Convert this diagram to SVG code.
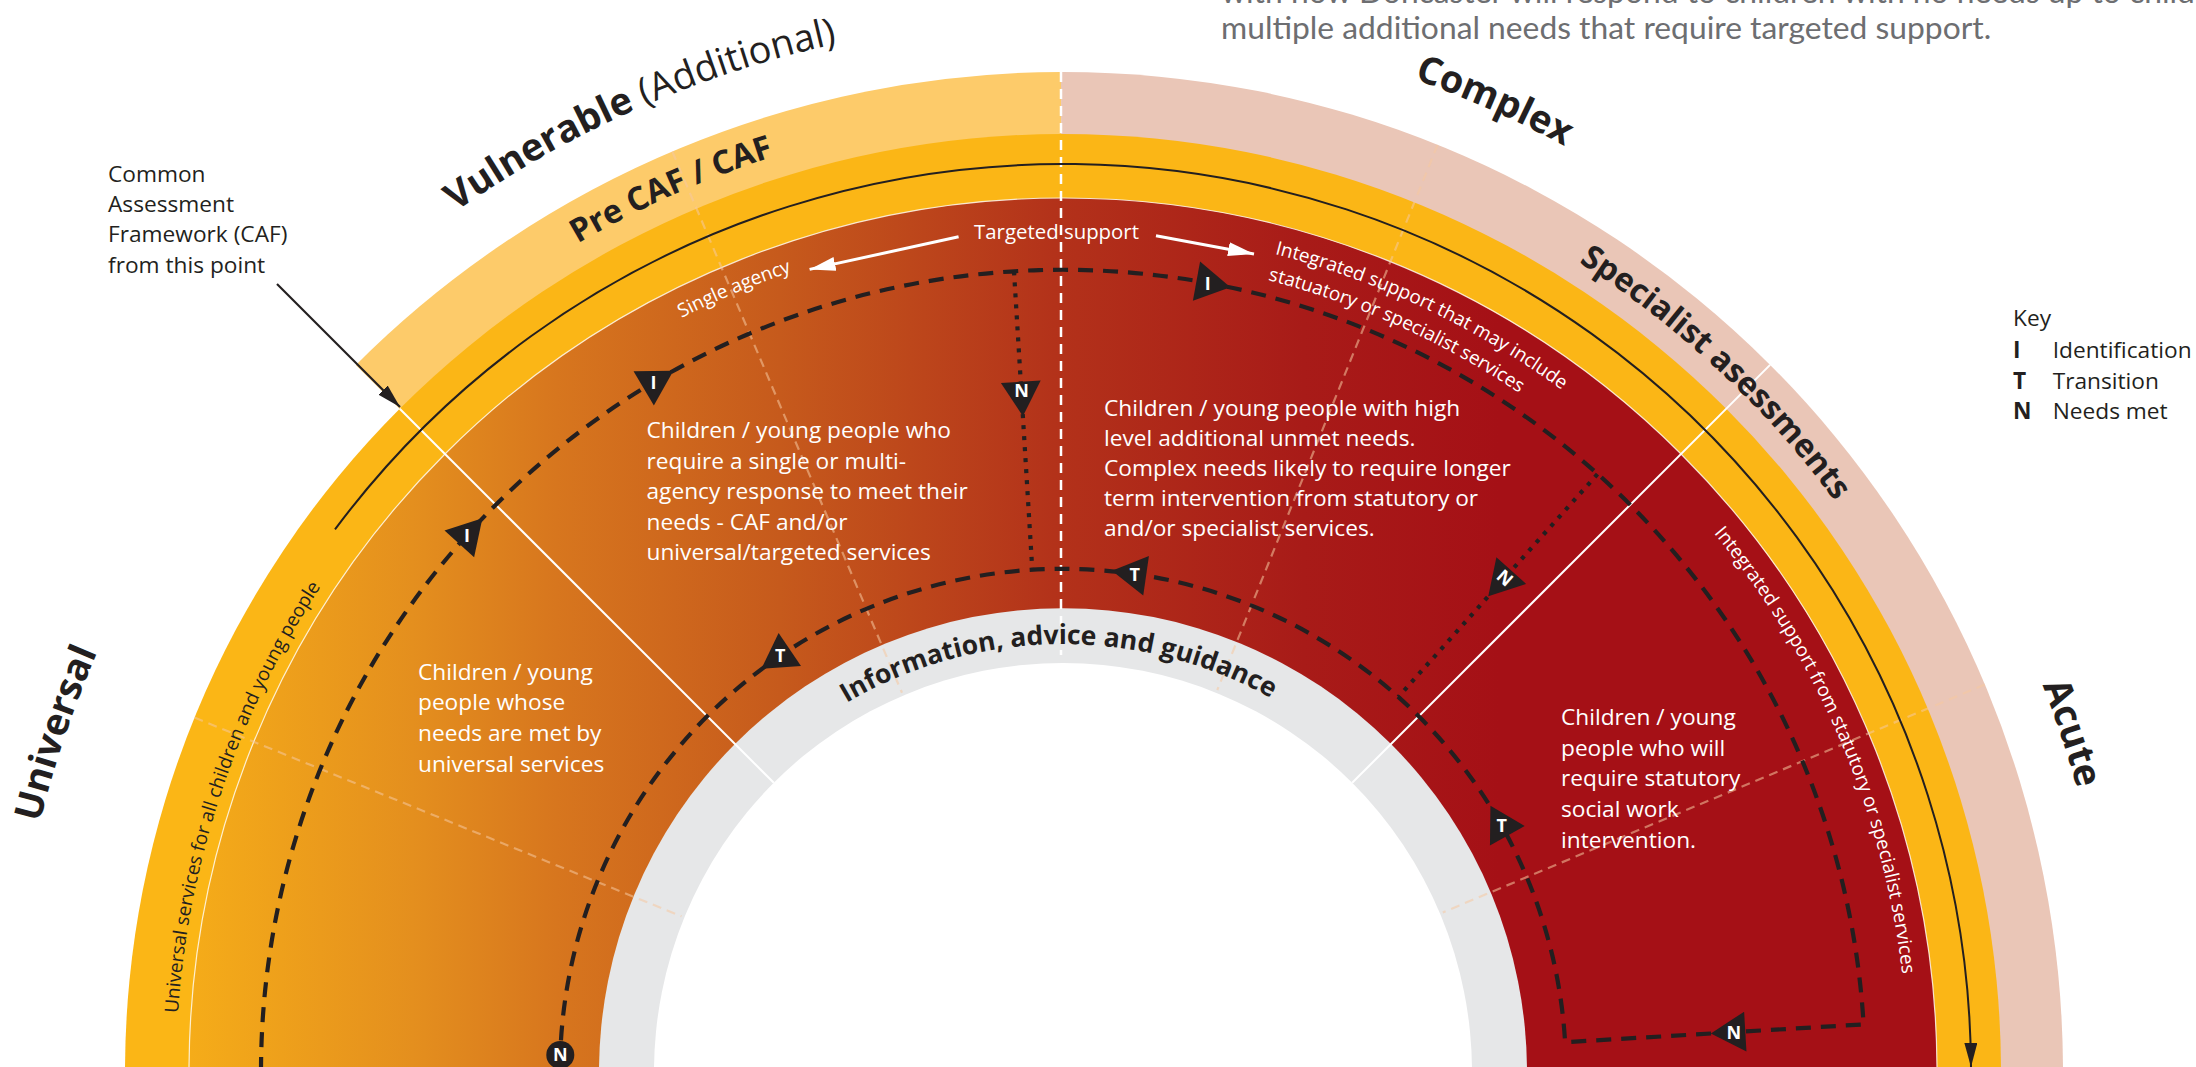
<svg xmlns="http://www.w3.org/2000/svg" width="2196" height="1067" viewBox="0 0 2196 1067">
<defs>
<style>
text{font-family:'Open Sans','Liberation Sans',sans-serif}
.dark{fill:#231F20}
.white{fill:#fff}
.body{font-size:22.7px;fill:#fff}
.lab{font-size:22.7px;fill:#231F20}
.big{font-size:38px;font-weight:700;fill:#231F20}
.mid{font-size:32.5px;font-weight:700;fill:#231F20}
.small{font-size:19px}
.mk{font-size:18px;font-weight:700;fill:#fff;text-anchor:middle}
.flow{fill:none;stroke:#231F20;stroke-width:4.2;stroke-dasharray:15 10}
.dots{fill:none;stroke:#231F20;stroke-width:4.2;stroke-dasharray:4 7}
.pale{stroke:#F6C9A0;stroke-opacity:0.55;stroke-width:2.2;stroke-dasharray:9 6}
.desc{font-family:Lato,'Liberation Sans',sans-serif;font-size:31.8px;fill:#6D6E71}
</style>
<linearGradient id="grad" gradientUnits="userSpaceOnUse" x1="190" y1="0" x2="1500" y2="0">
<stop offset="0" stop-color="#F5AC19"/>
<stop offset="0.17" stop-color="#E48F1E"/>
<stop offset="0.28" stop-color="#D7761E"/>
<stop offset="0.45" stop-color="#C65A1C"/>
<stop offset="0.66" stop-color="#B3321A"/>
<stop offset="0.85" stop-color="#A81B18"/>
<stop offset="1" stop-color="#A51016"/>
</linearGradient>
<marker id="ahB" markerUnits="userSpaceOnUse" viewBox="0 0 24 13" refX="24" refY="6.5" markerWidth="24" markerHeight="13" orient="auto"><path d="M0,0 L24,6.5 L0,13 Z" fill="#231F20"/></marker>
<marker id="ahW" markerUnits="userSpaceOnUse" viewBox="0 0 26 14" refX="26" refY="7" markerWidth="26" markerHeight="14" orient="auto"><path d="M0,0 L26,7 L0,14 Z" fill="#fff"/></marker>
<path id="pBig" d="M10,1072 A1053 1053 0 0 1 2116,1072"/>
<path id="pSub" d="M103,1072 A960 960 0 0 1 2023,1072"/>
<path id="pInfo" d="M635,1072 A428 428 0 0 1 1491,1072"/>
<path id="p845" d="M218,1072 A845 845 0 0 1 1908,1072"/>
<path id="p818" d="M245,1072 A818 818 0 0 1 1881,1072"/>
<path id="p887" d="M176,1072 A887 887 0 0 1 1950,1072"/>
<polygon id="tri" points="23,0 -11.5,19.92 -11.5,-19.92" fill="#231F20"/>
</defs>
<rect width="2196" height="1067" fill="#fff"/>

<g id="description">
<text class="desc" x="1221" y="3">with how Doncaster will respond to children with no needs up to children with</text>
<text class="desc" x="1221" y="38.6">multiple additional needs that require targeted support.</text>
</g>

<g id="rings">
<path d="M1063,1072 L355.9,364.9 A1000 1000 0 0 1 1061,72 Z" fill="#FDCB6A"/>
<path d="M1063,1072 L1061,72 A1000 1000 0 0 1 2063,1072 Z" fill="#EAC6B7"/>
<path d="M125,1072 A938 938 0 0 1 2001,1072 Z" fill="#FBB616"/>
<path d="M189,1072 A874 874 0 0 1 1937,1072 Z" fill="url(#grad)"/>
<path d="M189,1072 A874 874 0 0 1 1937,1072" fill="none" stroke="#fff" stroke-opacity="0.8" stroke-width="1.2"/>
<path d="M599,1072 A464 464 0 0 1 1527,1072 Z" fill="#E6E7E8"/>
<path d="M654,1072 A409 409 0 0 1 1472,1072 Z" fill="#fff"/>
</g>

<g id="dividers">
<line class="pale" x1="194.5" y1="717.6" x2="681.5" y2="916.3"/>
<line class="pale" x1="672.3" y1="151.5" x2="902" y2="692.8"/>
<line class="pale" x1="1437.6" y1="144.8" x2="1217.3" y2="690"/>
<line class="pale" x1="1984.9" y1="684.5" x2="1442.8" y2="912.4"/>
<line x1="399.7" y1="408.7" x2="773.8" y2="782.8" stroke="#fff" stroke-width="2"/>
<line x1="1770.1" y1="364.9" x2="1352.2" y2="782.8" stroke="#fff" stroke-width="2"/>
<line x1="1061" y1="72" x2="1061" y2="655" stroke="#fff" stroke-width="2.5" stroke-dasharray="10 7"/>
</g>

<g id="connectors">
<path d="M335,529.4 A908 908 0 0 1 1971,1066.9" fill="none" stroke="#231F20" stroke-width="2" marker-end="url(#ahB)"/>
<line x1="277" y1="284" x2="400" y2="407" stroke="#231F20" stroke-width="2.2" marker-end="url(#ahB)"/>
<line x1="958.6" y1="236.8" x2="809.6" y2="269.4" stroke="#fff" stroke-width="3" marker-end="url(#ahW)"/>
<line x1="1156" y1="235.7" x2="1254" y2="254" stroke="#fff" stroke-width="3" marker-end="url(#ahW)"/>
<path class="flow" d="M261,1072 A802 802 0 0 1 1863.6,1024.4 L1565.1,1042.2 A503 503 0 0 0 560.9,1041.3"/>
<line class="dots" x1="1014" y1="271.5" x2="1032.3" y2="569.9"/>
<line class="dots" x1="1597.5" y1="474.1" x2="1398.3" y2="697"/>
</g>

<g id="markers">
<g id="mk-i1" transform="translate(467,535.4)"><use href="#tri" transform="rotate(-48)"/><text class="mk" dy="6.4">I</text></g>
<g id="mk-i2" transform="translate(653.6,382.4)"><use href="#tri" transform="rotate(-30.7)"/><text class="mk" dy="6.4">I</text></g>
<g id="mk-n1" transform="translate(1021.5,393.3)"><use href="#tri" transform="rotate(86.5)"/><text class="mk" dy="3.5">N</text></g>
<g id="mk-i3" transform="translate(1207.8,283.2)"><use href="#tri" transform="rotate(10.4)"/><text class="mk" dy="6.4">I</text></g>
<g id="mk-n2" transform="translate(1503.6,579.2)"><use href="#tri" transform="rotate(131.8)"/><text class="mk" dy="4.5" transform="rotate(41.8)">N</text></g>
<g id="mk-n3" transform="translate(1733.8,1032.2)"><use href="#tri" transform="rotate(176.6)"/><text class="mk" dy="6.4">N</text></g>
<g id="mk-t1" transform="translate(1501.7,825.8)"><use href="#tri" transform="rotate(240.7)"/><text class="mk" dy="6.4">T</text></g>
<g id="mk-t2" transform="translate(1134.7,574.1)"><use href="#tri" transform="rotate(188.2)"/><text class="mk" dy="6.4">T</text></g>
<g id="mk-t3" transform="translate(780.3,656)"><use href="#tri" transform="rotate(145.8)"/><text class="mk" dy="6.4">T</text></g>
<g id="mk-n4" transform="translate(560.3,1054.9)"><circle r="14" fill="#231F20"/><text class="mk" dy="6.4">N</text></g>
</g>

<g id="caf-note">
<text class="lab" x="108" y="181.7">Common</text>
<text class="lab" x="108" y="212">Assessment</text>
<text class="lab" x="108" y="242">Framework (CAF)</text>
<text class="lab" x="108" y="272.5">from this point</text>
</g>

<g id="universal">
<text class="big" text-anchor="middle"><textPath href="#pBig" startOffset="341.8">Universal</textPath></text>
<text class="small dark"><textPath href="#p887" startOffset="58.8">Universal services for all children and young people</textPath></text>
<text class="body" x="418" y="679.6">Children / young</text>
<text class="body" x="418" y="710.3">people whose</text>
<text class="body" x="418" y="741">needs are met by</text>
<text class="body" x="418" y="771.7">universal services</text>
</g>

<g id="vulnerable">
<text class="big" text-anchor="middle"><textPath href="#pBig" startOffset="1216.6">Vulnerable<tspan font-weight="400"> (Additional)</tspan></textPath></text>
<text class="mid" text-anchor="middle"><textPath href="#pSub" startOffset="1106.7">Pre CAF / CAF</textPath></text>
<text class="small white" text-anchor="middle"><textPath href="#p845" startOffset="991.1">Single agency</textPath></text>
<text class="body" x="646.5" y="438.4">Children / young people who</text>
<text class="body" x="646.5" y="468.9">require a single or multi-</text>
<text class="body" x="646.5" y="499.4">agency response to meet their</text>
<text class="body" x="646.5" y="529.9">needs - CAF and/or</text>
<text class="body" x="646.5" y="560.4">universal/targeted services</text>
</g>

<g id="targeted">
<text class="white" font-size="20.4" x="1056.5" y="238.5" text-anchor="middle">Targeted support</text>
</g>

<g id="complex">
<text class="big" text-anchor="middle"><textPath href="#pBig" startOffset="2094.2">Complex</textPath></text>
<text class="mid" text-anchor="middle"><textPath href="#pSub" startOffset="2228.4">Specialist asessments</textPath></text>
<text class="small white"><textPath href="#p845" startOffset="1541.2">Integrated support that may include</textPath></text>
<text class="small white"><textPath href="#p818" startOffset="1491.9">statuatory or specialist services</textPath></text>
<text class="body" x="1104" y="415.6">Children / young people with high</text>
<text class="body" x="1104" y="445.8">level additional unmet needs.</text>
<text class="body" x="1104" y="476">Complex needs likely to require longer</text>
<text class="body" x="1104" y="506.2">term intervention from statutory or</text>
<text class="body" x="1104" y="536.4">and/or specialist services.</text>
</g>

<g id="acute">
<text class="big" text-anchor="middle"><textPath href="#pBig" startOffset="2966.3">Acute</textPath></text>
<text class="small white"><textPath href="#p845" startOffset="2070">Integrated support from statutory or specialist services</textPath></text>
<text class="body" x="1561" y="725">Children / young</text>
<text class="body" x="1561" y="755.7">people who will</text>
<text class="body" x="1561" y="786.4">require statutory</text>
<text class="body" x="1561" y="817.1">social work</text>
<text class="body" x="1561" y="847.8">intervention.</text>
</g>

<g id="info">
<text font-size="26.5" font-weight="700" class="dark" text-anchor="middle"><textPath href="#pInfo" startOffset="667.1">Information, advice and guidance</textPath></text>
</g>

<g id="key">
<text class="lab" x="2013" y="326">Key</text>
<text class="lab" x="2013" y="357.8" font-weight="700">I</text>
<text class="lab" x="2052.7" y="357.8">Identification</text>
<text class="lab" x="2013" y="388.6" font-weight="700">T</text>
<text class="lab" x="2052.7" y="388.6">Transition</text>
<text class="lab" x="2013" y="419" font-weight="700">N</text>
<text class="lab" x="2052.7" y="419">Needs met</text>
</g>
</svg>
